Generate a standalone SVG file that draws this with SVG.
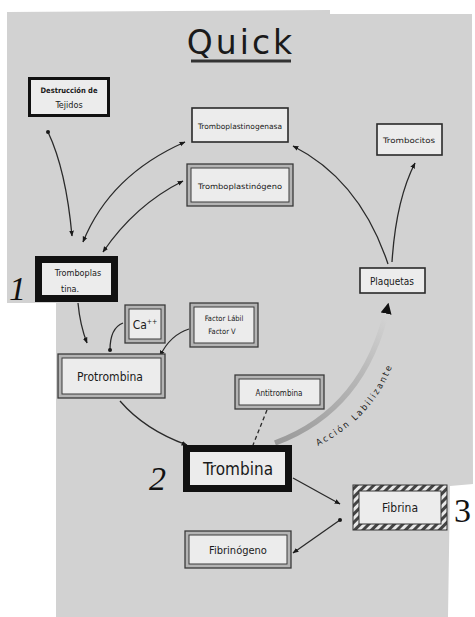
<svg xmlns="http://www.w3.org/2000/svg" width="475" height="617" viewBox="0 0 475 617">
<defs>
<style>
.bg{fill:#ffffff}
.paper{fill:#d2d2d2}
.box{fill:#ececec;stroke:#2a2a2a;stroke-width:1.6}
.thick{fill:#ececec;stroke:#111;stroke-width:3}
.heavy{fill:#ececec;stroke:#111;stroke-width:7}
.dbl-out{fill:#b4b4b4;stroke:#3a3a3a;stroke-width:1.3}
.dbl-in{fill:#ececec;stroke:#3a3a3a;stroke-width:1}
.t{font-family:"DejaVu Sans Condensed","DejaVu Sans",sans-serif;fill:#1a1a1a;text-anchor:middle}
.num{font-family:"Liberation Serif",serif;font-style:italic;fill:#111;font-size:34px}
.c{fill:none;stroke:#2a2a2a;stroke-width:1.3}
</style>
<marker id="ah" viewBox="0 0 10 10" refX="9" refY="5" markerWidth="6" markerHeight="6" orient="auto-start-reverse" markerUnits="userSpaceOnUse">
<path d="M0,1 L10,5 L0,9 z" fill="#1a1a1a"/>
</marker>
<marker id="dot" viewBox="0 0 10 10" refX="5" refY="5" markerWidth="4" markerHeight="4" markerUnits="userSpaceOnUse">
<circle cx="5" cy="5" r="5" fill="#1a1a1a"/>
</marker>
<marker id="big" viewBox="0 0 10 10" refX="8" refY="5" markerWidth="11" markerHeight="11" orient="auto" markerUnits="userSpaceOnUse">
<path d="M0,0 L10,5 L0,10 z" fill="#111"/>
</marker>
<pattern id="hatch" patternUnits="userSpaceOnUse" width="6" height="6" patternTransform="rotate(45)">
<rect width="6" height="6" fill="#e8e8e8"/>
<rect width="3" height="6" fill="#444"/>
</pattern>
<linearGradient id="acc" gradientUnits="userSpaceOnUse" x1="275" y1="443" x2="388" y2="303">
<stop offset="0" stop-color="#9a9a9a"/>
<stop offset="0.6" stop-color="#b8b8b8"/>
<stop offset="1" stop-color="#d8d8d8"/>
</linearGradient>
</defs>
<rect class="bg" width="475" height="617"/>
<path class="paper" d="M7,12 L330,10 L330,14 L472,14 L473,484 L450,486 L448,617 L56,617 L56,303 L7,303 Z"/>

<g id="title">
<text x="241" y="54" class="t" style="font-family:'DejaVu Sans',sans-serif;font-size:33px;letter-spacing:3px" fill="#222">Quick</text>
<line x1="191" y1="61" x2="291" y2="61" stroke="#333" stroke-width="3"/>
</g>

<g id="connectors">
<path class="c" d="M48,132 Q66,170 72,236" marker-start="url(#dot)" marker-end="url(#ah)"/>
<path class="c" d="M185,142 Q110,175 83,242" marker-start="url(#ah)" marker-end="url(#ah)"/>
<path class="c" d="M183,181 Q135,205 103,252" marker-start="url(#ah)" marker-end="url(#ah)"/>
<path class="c" d="M388,264 Q360,180 293,146" marker-end="url(#ah)"/>
<path class="c" d="M392,262 Q396,200 415,163" marker-end="url(#ah)"/>
<path class="c" d="M78,303 Q80,325 87,343" marker-end="url(#ah)"/>
<path class="c" d="M123,323 Q110,328 110,350" marker-end="url(#dot)"/>
<path class="c" d="M189,329 Q170,335 160,356" marker-end="url(#ah)"/>
<path class="c" d="M120,401 Q145,430 187,445" marker-end="url(#ah)"/>
<path class="c" d="M267,410 L253,445" stroke-dasharray="4,3"/>
<path d="M275,443 Q365,410 388,305" fill="none" stroke="url(#acc)" stroke-width="5.5" marker-end="url(#big)"/>
<path class="c" d="M293,478 L340,504" marker-end="url(#ah)"/>
<path class="c" d="M293,553 L340,520" marker-start="url(#ah)" marker-end="url(#dot)"/>
<path id="accpath" d="M318,446 Q385,412 400,340" fill="none"/>
<text class="t" style="font-size:9px;letter-spacing:2.2px;text-anchor:start"><textPath href="#accpath">Acción Labilizante</textPath></text>
</g>

<g id="destruccion">
<rect class="thick" x="29.5" y="78.5" width="79" height="37"/>
<text class="t" x="69" y="93" style="font-size:7.5px;font-weight:bold">Destrucción de</text>
<text class="t" x="69" y="108" style="font-size:9px">Tejidos</text>
</g>

<g id="tromboplastinogenasa">
<rect class="box" x="192" y="108" width="96" height="34"/>
<text class="t" x="240" y="129" style="font-size:7.5px" textLength="84" lengthAdjust="spacingAndGlyphs">Tromboplastinogenasa</text>
</g>

<g id="tromboplastinogeno">
<rect class="dbl-out" x="187" y="164" width="106" height="42"/>
<rect class="dbl-in" x="191" y="168" width="98" height="34"/>
<text class="t" x="240" y="189" style="font-size:7.5px" textLength="84" lengthAdjust="spacingAndGlyphs">Tromboplastinógeno</text>
</g>

<g id="trombocitos">
<rect class="box" x="377" y="124" width="65" height="31"/>
<text class="t" x="409" y="143" style="font-size:7.5px" textLength="52" lengthAdjust="spacingAndGlyphs">Trombocitos</text>
</g>

<g id="tromboplastina">
<rect class="heavy" x="38.5" y="259.5" width="76" height="39"/>
<text class="t" x="78" y="276" style="font-size:9px">Tromboplas</text>
<text class="t" x="70" y="292" style="font-size:9px">tina.</text>
<text class="num" x="9" y="300">1</text>
</g>

<g id="plaquetas">
<rect class="box" x="360" y="268" width="65" height="25"/>
<text class="t" x="392" y="285" style="font-size:10px">Plaquetas</text>
</g>

<g id="ca">
<rect class="dbl-out" x="125" y="305" width="40" height="38"/>
<rect class="dbl-in" x="129" y="309" width="32" height="30"/>
<text class="t" x="145" y="329" style="font-size:12px">Ca<tspan dy="-5" style="font-size:7px">++</tspan></text>
</g>

<g id="factor">
<rect class="dbl-out" x="190" y="303" width="68" height="44"/>
<rect class="dbl-in" x="194" y="307" width="60" height="36"/>
<text class="t" x="224" y="321" style="font-size:7.5px">Factor Lábil</text>
<text class="t" x="222" y="334" style="font-size:7.5px">Factor V</text>
</g>

<g id="protrombina">
<rect class="dbl-out" x="58" y="354" width="107" height="44"/>
<rect class="dbl-in" x="62" y="358" width="99" height="36"/>
<text class="t" x="110" y="381" style="font-size:12px">Protrombina</text>
</g>

<g id="antitrombina">
<rect class="dbl-out" x="235" y="375" width="89" height="34"/>
<rect class="dbl-in" x="239" y="379" width="81" height="26"/>
<text class="t" x="279" y="396" style="font-size:8px">Antitrombina</text>
</g>

<g id="trombina">
<rect class="heavy" x="186.5" y="448.5" width="102" height="40"/>
<text class="t" x="238" y="475" style="font-size:17px">Trombina</text>
<text class="num" x="149" y="490">2</text>
</g>

<g id="fibrina">
<rect x="353" y="485" width="94" height="45" fill="url(#hatch)" stroke="#333" stroke-width="1"/>
<rect x="359" y="491" width="82" height="33" fill="#ececec" stroke="#333" stroke-width="1"/>
<text class="t" x="400" y="512" style="font-size:12px">Fibrina</text>
<text class="num" x="454" y="522" style="font-style:normal">3</text>
</g>

<g id="fibrinogeno">
<rect class="dbl-out" x="185" y="531" width="106" height="37"/>
<rect class="dbl-in" x="189" y="535" width="98" height="29"/>
<text class="t" x="238" y="554" style="font-size:11px">Fibrinógeno</text>
</g>
</svg>
